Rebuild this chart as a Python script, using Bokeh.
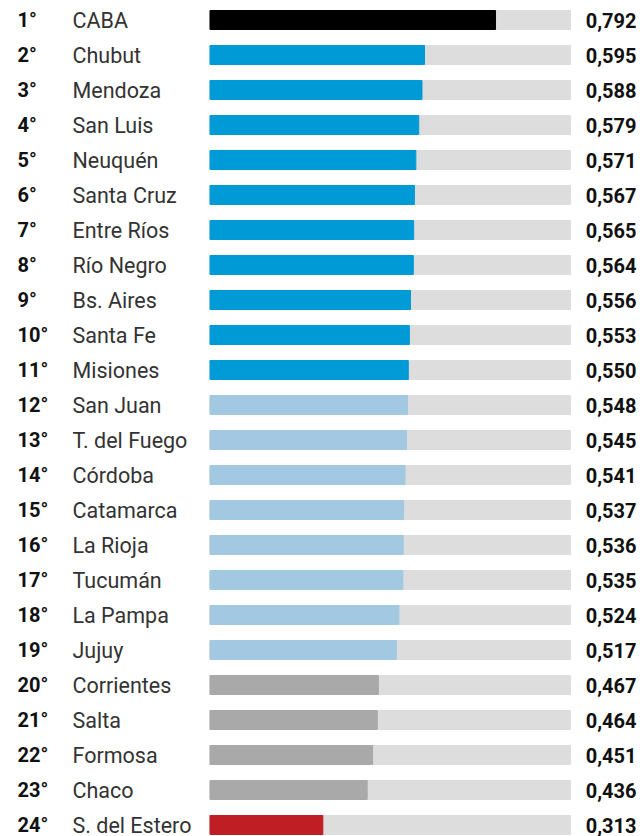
from bokeh.plotting import figure
from bokeh.models import Range1d, ColumnDataSource
from bokeh.core.properties import value
from bokeh.embed import file_html
from bokeh.resources import INLINE

provinces = ["CABA", "Chubut", "Mendoza", "San Luis", "Neuquén", "Santa Cruz",
             "Entre Ríos", "Río Negro", "Bs. Aires", "Santa Fe", "Misiones",
             "San Juan", "T. del Fuego", "Córdoba", "Catamarca", "La Rioja",
             "Tucumán", "La Pampa", "Jujuy", "Corrientes", "Salta", "Formosa",
             "Chaco", "S. del Estero"]
values = [0.792, 0.595, 0.588, 0.579, 0.571, 0.567, 0.565, 0.564, 0.556, 0.553,
          0.550, 0.548, 0.545, 0.541, 0.537, 0.536, 0.535, 0.524, 0.517, 0.467,
          0.464, 0.451, 0.436, 0.313]
groups = ["top"] + ["high"] * 10 + ["mid"] * 8 + ["low"] * 4 + ["bottom"]
group_colors = {"top": "#000000", "high": "#009ad6", "mid": "#a2c9e1",
                "low": "#a9a9a9", "bottom": "#be1e24"}

n = len(provinces)
idx = list(range(n))
ranks = [f"{i + 1}°" for i in idx]
labels = [f"{v:.3f}".replace(".", ",") for v in values]
colors = [group_colors[g] for g in groups]

W, H = 640, 836
px_per_unit = 360.5
x0 = 209.5  # pixel position of value 0
row_h = 35.0
y_first = 19.5

src = ColumnDataSource(dict(y=idx, v=values, c=colors, name=provinces,
                            rank=ranks, lab=labels, full=[1.0] * n))

p = figure(width=W, height=H, output_backend="svg", toolbar_location=None,
           x_range=Range1d(-x0 / px_per_unit, (W - x0) / px_per_unit),
           y_range=Range1d((H - y_first) / row_h, -y_first / row_h),
           min_border=0)
p.axis.visible = False
p.grid.visible = False
p.outline_line_color = None
p.background_fill_color = "white"
p.border_fill_color = "white"

bh = 19 / row_h
p.hbar(y="y", left=0, right="full", height=bh, color="#dddddd", source=src)
p.hbar(y="y", left=0, right="v", height=bh, color="c", source=src)

p.text(x=(17 - x0) / px_per_unit, y="y", text="rank", source=src,
       text_font=value("Roboto"), text_font_style="bold", text_font_size="20px",
       text_baseline="middle", text_color="#111111")
p.text(x=(72 - x0) / px_per_unit, y="y", text="name", source=src,
       text_font=value("Roboto"), text_font_size="21.5px",
       text_baseline="middle", text_color="#333333")
p.text(x=(636 - x0) / px_per_unit, y="y", text="lab", source=src,
       text_font=value("Roboto"), text_font_style="bold", text_font_size="20px",
       text_align="right", text_baseline="middle",
       text_color="#111111")

open("out.html", "w").write(file_html(p, INLINE))
